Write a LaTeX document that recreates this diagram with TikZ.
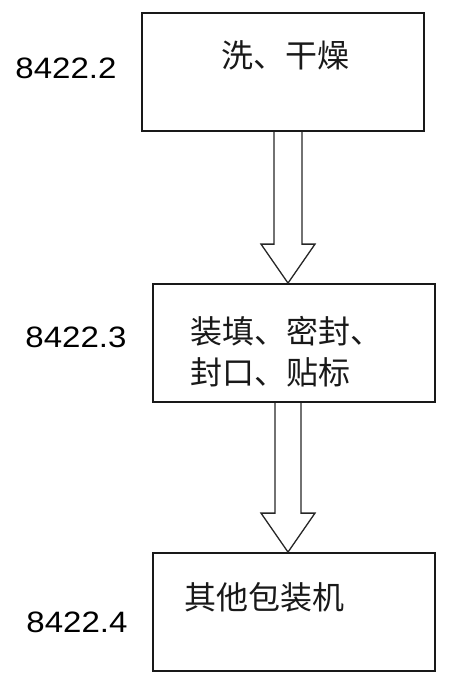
\documentclass[tikz,border=0pt]{standalone}
\usepackage{fontspec}
\setmainfont{Liberation Sans}
\newfontfamily\cjk{Noto Sans CJK SC}
\usetikzlibrary{calc}
\begin{document}
\begin{tikzpicture}[x=1pt,y=-1pt,
  box/.style={draw=black!90, line width=1.8pt, rectangle, inner sep=0pt,
              minimum width=282pt, minimum height=118pt},
  cjktext/.style={inner sep=0pt, font=\cjk\fontsize{32}{41}\selectfont, text=black!90},
  codelabel/.style={inner sep=0pt, font=\fontsize{29.5}{34}\selectfont, text=black},
  blockarrow/.style={draw=black!85, line width=1.3pt, line join=miter}]
\useasboundingbox (0,0) rectangle (466,694);

% boxes
\node[box] (b1) at (283,72) {};
\node[box] (b2) at (294,343) {};
\node[box] (b3) at (294,612) {};

% texts
\node[cjktext] (t1) at (285,55) {洗、干燥};
\node[cjktext, anchor=west, align=left] (t2) at (190,352) {装填、密封、\\封口、贴标};
\node[cjktext, anchor=west] (t3) at (184,597) {其他包装机};

% labels
\node[codelabel] (l1) at (66,68) {\scalebox{1.12}[1]{8422.2}};
\node[codelabel] (l2) at (76,337) {\scalebox{1.12}[1]{8422.3}};
\node[codelabel] (l3) at (77,622) {\scalebox{1.12}[1]{8422.4}};

% arrows
\coordinate (cx) at (288,0);
\coordinate (s1) at (b1.south -| cx);
\coordinate (e1) at (b2.north -| cx);
\coordinate (s2) at (b2.south -| cx);
\coordinate (e2) at (b3.north -| cx);

\draw[blockarrow] ($(s1)+(-14,0)$) -- ($(e1)+(-14,-39)$) -- ($(e1)+(-27,-39)$)
  -- (e1) -- ($(e1)+(27,-39)$) -- ($(e1)+(14,-39)$) -- ($(s1)+(14,0)$);
\draw[blockarrow] ($(s2)+(-13,0)$) -- ($(e2)+(-13,-39)$) -- ($(e2)+(-27,-39)$)
  -- (e2) -- ($(e2)+(27,-39)$) -- ($(e2)+(13,-39)$) -- ($(s2)+(13,0)$);
\end{tikzpicture}
\end{document}
